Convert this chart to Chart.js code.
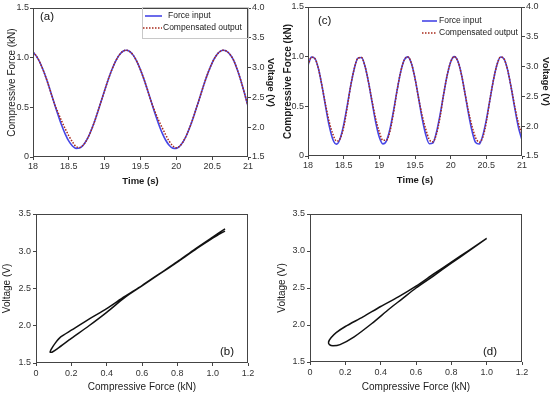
<!DOCTYPE html>
<html>
<head>
<meta charset="utf-8">
<script src="https://cdn.jsdelivr.net/npm/chart.js@4.4.1/dist/chart.umd.min.js"></script>
<style>
  html, body { margin: 0; padding: 0; background: #fff; }
  #figura { position: relative; width: 550px; height: 393px; overflow: hidden; }
  .painel { position: absolute; }
  #painel-a { left: 0; top: 0; }
  #painel-c { left: 275px; top: 0; }
  #painel-b { left: 0; top: 195px; }
  #painel-d { left: 275px; top: 195px; }
</style>
</head>
<body>
<div id="figura">
  <canvas class="painel" id="painel-a" width="275" height="195"></canvas>
  <canvas class="painel" id="painel-c" width="275" height="195"></canvas>
  <canvas class="painel" id="painel-b" width="275" height="198"></canvas>
  <canvas class="painel" id="painel-d" width="275" height="198"></canvas>
</div>
<script>
// Dados

// eixo do tempo (s), comum aos painéis (a) e (c)
const tempo = [
  18.00, 18.05, 18.10, 18.15, 18.20, 18.25, 18.30, 18.35, 18.40, 18.45,
  18.50, 18.55, 18.60, 18.65, 18.70, 18.75, 18.80, 18.85, 18.90, 18.95,
  19.00, 19.05, 19.10, 19.15, 19.20, 19.25, 19.30, 19.35, 19.40, 19.45,
  19.50, 19.55, 19.60, 19.65, 19.70, 19.75, 19.80, 19.85, 19.90, 19.95,
  20.00, 20.05, 20.10, 20.15, 20.20, 20.25, 20.30, 20.35, 20.40, 20.45,
  20.50, 20.55, 20.60, 20.65, 20.70, 20.75, 20.80, 20.85, 20.90, 20.95, 21.00
];

// painel (a): força de entrada (kN) e saída compensada (V)
const forcaA = [
  1.056, 1.013, 0.946, 0.860, 0.759, 0.648, 0.534, 0.423, 0.319, 0.230,
  0.159, 0.111, 0.087, 0.090, 0.119, 0.172, 0.247, 0.339, 0.445, 0.558,
  0.671, 0.780, 0.878, 0.961, 1.023, 1.062, 1.075, 1.062, 1.023, 0.960,
  0.877, 0.779, 0.670, 0.556, 0.443, 0.338, 0.245, 0.171, 0.118, 0.089,
  0.087, 0.111, 0.160, 0.232, 0.322, 0.426, 0.537, 0.651, 0.762, 0.862,
  0.948, 1.014, 1.057, 1.075, 1.066, 1.031, 0.973, 0.880, 0.770, 0.645, 0.510
];
const tensaoA = [
  3.260, 3.188, 3.077, 2.933, 2.765, 2.580, 2.390, 2.245, 2.102, 1.973,
  1.855, 1.755, 1.675, 1.660, 1.698, 1.787, 1.912, 2.065, 2.242, 2.430,
  2.618, 2.800, 2.963, 3.102, 3.205, 3.270, 3.292, 3.270, 3.205, 3.100,
  2.962, 2.798, 2.617, 2.427, 2.268, 2.123, 1.998, 1.875, 1.767, 1.688,
  1.655, 1.685, 1.767, 1.887, 2.037, 2.210, 2.395, 2.585, 2.770, 2.937,
  3.080, 3.190, 3.262, 3.292, 3.277, 3.218, 3.122, 2.967, 2.783, 2.575, 2.350
];

// painel (c): força de entrada (kN) e saída compensada (V)
const forcaC = [
  0.916, 0.995, 0.978, 0.868, 0.690, 0.484, 0.295, 0.164, 0.120, 0.174,
  0.313, 0.507, 0.713, 0.884, 0.985, 0.991, 0.901, 0.737, 0.534, 0.336,
  0.188, 0.122, 0.153, 0.274, 0.458, 0.665, 0.849, 0.968, 0.998, 0.931,
  0.782, 0.584, 0.380, 0.217, 0.124, 0.130, 0.237, 0.410, 0.615, 0.809,
  0.947, 1.000, 0.956, 0.824, 0.633, 0.427, 0.250, 0.136, 0.121, 0.205,
  0.364, 0.565, 0.766, 0.921, 0.996, 0.975, 0.862, 0.682, 0.476, 0.288, 0.160
];
const tensaoC = [
  3.027, 3.158, 3.130, 2.947, 2.650, 2.337, 2.062, 1.863, 1.750, 1.790,
  1.982, 2.315, 2.688, 2.973, 3.142, 3.152, 3.002, 2.728, 2.410, 2.120,
  1.903, 1.763, 1.765, 1.917, 2.233, 2.608, 2.915, 3.113, 3.163, 3.052,
  2.803, 2.473, 2.183, 1.952, 1.777, 1.737, 1.865, 2.143, 2.525, 2.848,
  3.078, 3.167, 3.093, 2.873, 2.555, 2.252, 1.997, 1.807, 1.732, 1.812,
  2.067, 2.442, 2.777, 3.035, 3.160, 3.125, 2.937, 2.637, 2.323, 2.050, 1.857
];

// painel (b): laço tensão x força
const forcaLacoB = [
  1.07, 1.00, 0.90, 0.80, 0.70, 0.60, 0.50, 0.40, 0.30, 0.20, 0.14, 0.11, 0.085, 0.08,
  0.09, 0.12, 0.20, 0.30, 0.40, 0.50, 0.60, 0.70, 0.80, 0.90, 1.00, 1.04, 1.07
];
const tensaoLacoB = [
  3.30, 3.19, 3.03, 2.86, 2.70, 2.54, 2.39, 2.23, 2.09, 1.94, 1.85, 1.77, 1.68, 1.645,
  1.645, 1.69, 1.83, 2.00, 2.18, 2.375, 2.535, 2.695, 2.855, 3.02, 3.175, 3.235, 3.27
];

// painel (d): laço tensão x força
const forcaLacoD = [
  1.00, 0.90, 0.80, 0.70, 0.60, 0.50, 0.40, 0.30, 0.20, 0.15, 0.12, 0.105, 0.11,
  0.13, 0.17, 0.25, 0.35, 0.45, 0.52, 0.60, 0.70, 0.80, 0.90, 1.00
];
const tensaoLacoD = [
  3.17, 3.01, 2.85, 2.69, 2.525, 2.38, 2.25, 2.11, 1.98, 1.90, 1.83, 1.77, 1.735,
  1.72, 1.735, 1.84, 2.02, 2.22, 2.35, 2.50, 2.665, 2.835, 3.00, 3.17
];

// rótulos dos eixos
const rotulosTempo = ['18', '18.5', '19', '19.5', '20', '20.5', '21'];
const rotulosForca = ['0', '0.5', '1.0', '1.5'];
const rotulosTensao = ['1.5', '2.0', '2.5', '3.0', '3.5', '4.0'];
const rotulosForcaLaco = ['0', '0.2', '0.4', '0.6', '0.8', '1.0', '1.2'];
const rotulosTensaoLaco = ['1.5', '2.0', '2.5', '3.0', '3.5'];

const fonte = "'Liberation Sans', Arial, sans-serif";
const corAzul = '#4646e6';
const corVermelha = '#a8281a';
const corEixo = '#444';

Chart.defaults.font.family = fonte;
Chart.defaults.animation = false;

// moldura, legenda e letra do painel
function criarDecoracao(cfg) {
    return {
        id: 'decoracao',
        afterDraw(chart) {
            const ctx = chart.ctx;
            const a = chart.chartArea;
            ctx.save();
            ctx.strokeStyle = corEixo;
            ctx.lineWidth = 1;
            ctx.strokeRect(Math.round(a.left) + 0.5, Math.round(a.top) + 0.5,
                Math.round(a.right - a.left) - 1, Math.round(a.bottom - a.top) - 1);

            if (cfg.caixa) {
                ctx.strokeStyle = '#c8c8c8';
                ctx.strokeRect(cfg.caixa[0] + 0.5, cfg.caixa[1] + 0.5, cfg.caixa[2], cfg.caixa[3]);
            }
            if (cfg.itens) {
                ctx.font = '8.5px ' + fonte;
                ctx.fillStyle = '#222';
                ctx.textBaseline = 'middle';
                ctx.textAlign = 'left';
                cfg.itens.forEach((it, i) => {
                    const ds = chart.data.datasets[i];
                    ctx.strokeStyle = ds.borderColor;
                    ctx.lineWidth = ds.borderWidth;
                    ctx.setLineDash(ds.borderDash || []);
                    ctx.beginPath();
                    ctx.moveTo(it.x0, it.y);
                    ctx.lineTo(it.x1, it.y);
                    ctx.stroke();
                    ctx.setLineDash([]);
                    ctx.fillText(ds.label, it.tx, it.y);
                });
            }
            if (cfg.letra) {
                ctx.font = '11.5px ' + fonte;
                ctx.fillStyle = '#111';
                ctx.textBaseline = 'middle';
                ctx.textAlign = 'left';
                ctx.fillText(cfg.letra.texto, cfg.letra.x, cfg.letra.y);
            }
            ctx.restore();
        }
    };
}

// configuração comum de um eixo
function eixo(opcoes) {
    return {
        type: 'linear',
        position: opcoes.posicao,
        min: opcoes.min,
        max: opcoes.max,
        afterFit: function(s) {
            if (s.isHorizontal()) {
                s.height = opcoes.tamanho;
                s.paddingLeft = 0;
                s.paddingRight = 0;
            } else {
                s.width = opcoes.tamanho;
                s.paddingTop = 0;
                s.paddingBottom = 0;
            }
        },
        grid: { display: true, drawOnChartArea: false, drawTicks: true, tickLength: 3, color: corEixo },
        border: { display: false },
        ticks: {
            stepSize: opcoes.passo,
            autoSkip: false,
            maxRotation: 0,
            padding: opcoes.espaco,
            color: '#333',
            font: { size: 9 },
            callback: function(valor, indice) {
                return opcoes.rotulos[indice];
            }
        },
        title: {
            display: !!opcoes.titulo,
            text: opcoes.titulo,
            color: '#1a1a1a',
            font: { size: opcoes.tamTitulo || 10, weight: opcoes.negrito ? 'bold' : 'normal' },
            padding: opcoes.espacoTitulo
        }
    };
}

function pontos(xs, ys) {
    return xs.map((x, i) => ({ x: x, y: ys[i] }));
}

// Função para inicializar os gráficos de série temporal (a) e (c)
function inicializarGraficoTempo(id, forca, tensao, cfg) {
    const ctx = document.getElementById(id);
    new Chart(ctx, {
        type: 'line',
        data: {
            datasets: [
                {
                    label: 'Force input',
                    data: pontos(tempo, forca),
                    yAxisID: 'yF',
                    borderColor: corAzul,
                    borderWidth: 1.6,
                    pointRadius: 0,
                    cubicInterpolationMode: 'monotone',
                    order: 1
                },
                {
                    label: 'Compensated output',
                    data: pontos(tempo, tensao),
                    yAxisID: 'yV',
                    borderColor: corVermelha,
                    borderWidth: 1.5,
                    borderDash: [1.5, 1.5],
                    pointRadius: 0,
                    cubicInterpolationMode: 'monotone',
                    order: 0
                }
            ]
        },
        options: {
            responsive: false,
            devicePixelRatio: 1,
            layout: { padding: { top: cfg.topo, left: 0, right: 0, bottom: 0 } },
            plugins: { legend: { display: false }, tooltip: { enabled: false } },
            scales: {
                x: eixo({ posicao: 'bottom', min: 18, max: 21, passo: 0.5, rotulos: rotulosTempo,
                    tamanho: cfg.altX, espaco: 1, titulo: 'Time (s)', negrito: true, tamTitulo: 9.5,
                    espacoTitulo: { top: 0, bottom: cfg.espTituloX } }),
                yF: eixo({ posicao: 'left', min: 0, max: 1.5, passo: 0.5, rotulos: rotulosForca,
                    tamanho: cfg.largEsq, espaco: 1, titulo: 'Compressive Force (kN)', negrito: cfg.negrito,
                    espacoTitulo: { top: cfg.espTituloEsq, bottom: 0 } }),
                yV: eixo({ posicao: 'right', min: 1.5, max: 4.0, passo: 0.5, rotulos: rotulosTensao,
                    tamanho: cfg.largDir, espaco: cfg.espDir, titulo: 'Voltage (V)', negrito: true,
                    tamTitulo: 9.5, espacoTitulo: { top: -1, bottom: 0 } })
            }
        },
        plugins: [criarDecoracao(cfg)]
    });
}

// Função para inicializar os gráficos de laço (b) e (d)
function inicializarGraficoLaco(id, forca, tensao, cfg) {
    const ctx = document.getElementById(id);
    new Chart(ctx, {
        type: 'scatter',
        data: {
            datasets: [
                {
                    label: 'Voltage',
                    data: pontos(forca, tensao),
                    showLine: true,
                    borderColor: '#111',
                    borderWidth: 1.5,
                    pointRadius: 0,
                    tension: 0.25
                }
            ]
        },
        options: {
            responsive: false,
            devicePixelRatio: 1,
            layout: { padding: { top: cfg.topo, left: 0, right: cfg.direita, bottom: 0 } },
            plugins: { legend: { display: false }, tooltip: { enabled: false } },
            scales: {
                x: eixo({ posicao: 'bottom', min: 0, max: 1.2, passo: 0.2, rotulos: rotulosForcaLaco,
                    tamanho: cfg.altX, espaco: 2, titulo: 'Compressive Force (kN)',
                    espacoTitulo: { top: 0, bottom: 0 } }),
                y: eixo({ posicao: 'left', min: 1.5, max: 3.5, passo: 0.5, rotulos: rotulosTensaoLaco,
                    tamanho: cfg.largEsq, espaco: 2, titulo: 'Voltage (V)',
                    espacoTitulo: { top: 1, bottom: 0 } })
            }
        },
        plugins: [criarDecoracao(cfg)]
    });
}

inicializarGraficoTempo('painel-a', forcaA, tensaoA, {
    topo: 8, altX: 38, largEsq: 33, largDir: 27, espDir: 1, espTituloX: 7.5, espTituloEsq: 6, negrito: false,
    caixa: [142, 7, 106, 31],
    itens: [{ x0: 145, x1: 162, y: 16, tx: 168 }, { x0: 143, x1: 162, y: 28, tx: 163 }],
    letra: { texto: '(a)', x: 40, y: 17 }
});

inicializarGraficoTempo('painel-c', forcaC, tensaoC, {
    topo: 7, altX: 39, largEsq: 33, largDir: 28, espDir: 1, espTituloX: 9, espTituloEsq: 7, negrito: true,
    itens: [{ x0: 147, x1: 162, y: 21, tx: 164 }, { x0: 147, x1: 162, y: 33, tx: 164 }],
    letra: { texto: '(c)', x: 43, y: 21 }
});

inicializarGraficoLaco('painel-b', forcaLacoB, tensaoLacoB, {
    topo: 19, direita: 27, altX: 30, largEsq: 36,
    letra: { texto: '(b)', x: 220, y: 157 }
});

inicializarGraficoLaco('painel-d', forcaLacoD, tensaoLacoD, {
    topo: 19, direita: 28, altX: 31, largEsq: 35,
    letra: { texto: '(d)', x: 208, y: 157 }
});
</script>
</body>
</html>
